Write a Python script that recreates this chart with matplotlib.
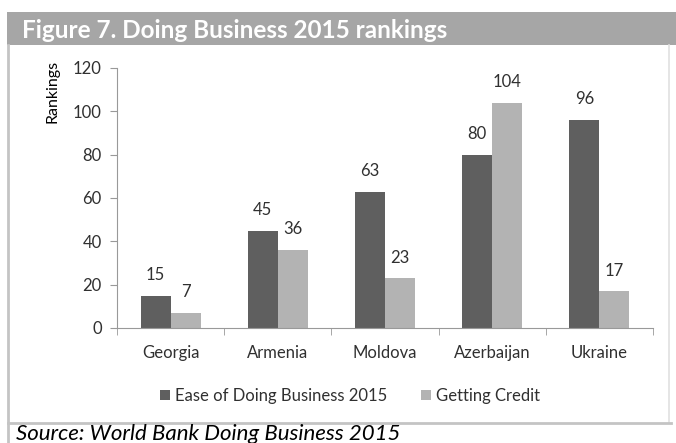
import matplotlib
matplotlib.use("Agg")
import matplotlib.pyplot as plt
from matplotlib.patches import Rectangle, Patch
from matplotlib.lines import Line2D
import numpy as np

categories = ["Georgia", "Armenia", "Moldova", "Azerbaijan", "Ukraine"]
ease_2015 = [15, 45, 63, 80, 96]
getting_credit = [7, 36, 23, 104, 17]
series_names = ["Ease of Doing Business 2015", "Getting Credit"]
y_ticks = [0, 20, 40, 60, 80, 100, 120]

plt.rcParams['font.family'] = ['Lato', 'DejaVu Sans']
dark = "#5f5f5f"
light = "#b3b3b3"
txt = "#303030"

W, H = 676, 443
fig = plt.figure(figsize=(W/100, H/100), dpi=100)

# frame
fig.add_artist(Rectangle((7/W, 1-45/H), 1-7/W, 33/H, transform=fig.transFigure,
                         facecolor="#a6a6a6", edgecolor="none", zorder=0))
fig.text(22/W, 1-38/H, "Figure 7. Doing Business 2015 rankings", color="white",
         fontsize=17.5, fontweight="bold", va="baseline", ha="left")
lc = "#c4c4c4"
fig.add_artist(Line2D([8/W, 8/W], [0, 1-45/H], transform=fig.transFigure, color=lc, lw=2))
fig.add_artist(Line2D([669/W, 669/W], [1-423/H, 1-45/H], transform=fig.transFigure, color="#e0e0e0", lw=1.2))
fig.add_artist(Line2D([8/W, 671/W], [1-423/H, 1-423/H], transform=fig.transFigure, color=lc, lw=2))
fig.text(16/W, 1-440/H, "Source: World Bank Doing Business 2015", fontsize=16,
         style="italic", color="black", va="baseline", ha="left")

ax = fig.add_axes([117/W, 1-328/H, (653-117)/W, (328-68)/H])
x = np.arange(len(categories))
bw = 0.28
b1 = ax.bar(x - bw/2, ease_2015, bw, color=dark, label=series_names[0])
b2 = ax.bar(x + bw/2, getting_credit, bw, color=light, label=series_names[1])
for bars in (b1, b2):
    for r in bars:
        ax.annotate(f"{int(r.get_height())}", (r.get_x() + r.get_width()/2, r.get_height()),
                    xytext=(0, 9), textcoords="offset points", ha="center", va="bottom",
                    fontsize=12, color=txt)

ax.set_xlim(-0.5, len(categories) - 0.5)
ax.set_ylim(0, 120)
ax.set_yticks(y_ticks)
ax.set_xticks(x)
ax.set_xticklabels(categories)
ax.set_xticks(np.arange(len(categories) + 1) - 0.5, minor=True)
ax.tick_params(axis="x", which="major", length=0, pad=12, labelsize=12, labelcolor=txt)
ax.tick_params(axis="x", which="minor", length=5, color="#999999", direction="out")
ax.tick_params(axis="y", length=5, color="#999999", labelsize=12, labelcolor=txt, pad=6)
for s in ("top", "right"):
    ax.spines[s].set_visible(False)
for s in ("left", "bottom"):
    ax.spines[s].set_color("#999999")
ax.set_ylabel("Rankings", fontsize=11.5, color="black")
ax.yaxis.set_label_coords(-0.108, 0.91)

handles = [Patch(facecolor=dark), Patch(facecolor=light)]
fig.legend(handles, series_names, loc="center", bbox_to_anchor=(350/W, 1-396/H),
           ncol=2, frameon=False, fontsize=12, handlelength=0.6, handleheight=0.6,
           handletextpad=0.3, columnspacing=2.0, labelcolor=txt)

fig.savefig("out.png", dpi=100)
